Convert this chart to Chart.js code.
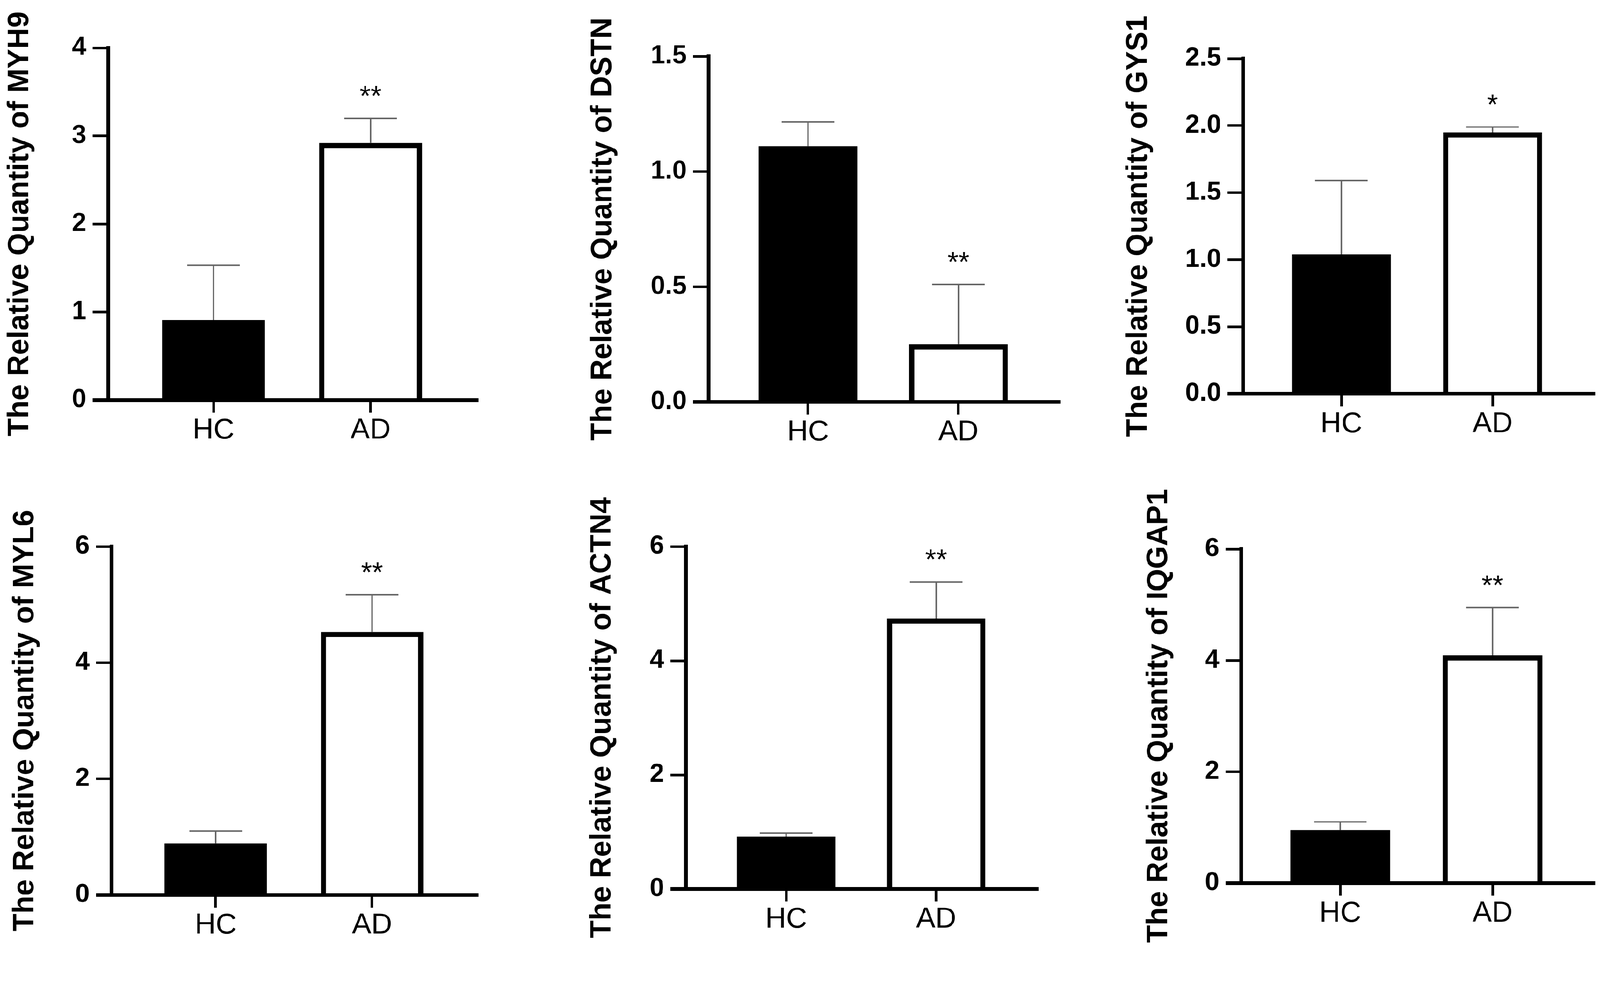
<!DOCTYPE html>
<html lang="en">
<head>
    <meta charset="UTF-8">
    <title>Relative Quantity - HC vs AD</title>
    <script src="https://cdn.jsdelivr.net/npm/chart.js"></script>
    <style>
        html, body { margin: 0; padding: 0; background: #fff; overflow: hidden; }
        #page { position: absolute; left: 0; top: 0; width: 4317px; height: 2554px; transform-origin: 0 0; background: #fff; }
        canvas { position: absolute; }
    </style>
</head>
<body>
    <div id="page"></div>
    <script>
        // values
        const groups = ['HC', 'AD'];
        const genes = ['MYH9', 'DSTN', 'GYS1', 'MYL6', 'ACTN4', 'IQGAP1'];
        const hcMean = [0.91, 1.11, 1.04, 0.89, 0.92, 0.95];
        const hcErr = [0.62, 0.105, 0.55, 0.21, 0.06, 0.15];
        const adMean = [2.92, 0.25, 1.95, 4.53, 4.74, 4.09];
        const adErr = [0.28, 0.26, 0.04, 0.64, 0.64, 0.86];
        const marks = ['**', '**', '*', '**', '**', '**'];
        const yMax = [4, 1.5, 2.5, 6, 6, 6];
        const yStep = [1, 0.5, 0.5, 2, 2, 2];
        const yDecimals = [0, 1, 1, 0, 0, 0];
        const xMin = [-0.67, -0.66, -0.65, -0.666, -0.667, -0.65];
        const xMax = [1.677, 1.67, 1.669, 1.671, 1.672, 1.664];

        // where each panel sits on the page (pixels)
        const frames = [
            { axisX: 292, topY: 129, zeroY: 1079, endX: 1287, titleX: 54 },
            { axisX: 1912, topY: 152, zeroY: 1084, endX: 2858, titleX: 1627 },
            { axisX: 3354, topY: 158, zeroY: 1062, endX: 4300, titleX: 3072 },
            { axisX: 301, topY: 1474, zeroY: 2414, endX: 1287, titleX: 68 },
            { axisX: 1851, topY: 1474, zeroY: 2398, endX: 2798, titleX: 1625 },
            { axisX: 3349, topY: 1481, zeroY: 2382, endX: 4300, titleX: 3127 }
        ];

        const FONT = "'Liberation Sans', Arial, sans-serif";
        const PAD_TOP = 200;
        const page = document.getElementById('page');

        // keep the 4317x2554 design filling the viewport whatever its css size
        const fit = Math.min(window.innerWidth / 4317, window.innerHeight / 2554);
        page.style.transform = 'scale(' + fit + ')';

        function makePanel(i) {
            const f = frames[i];
            const left = f.titleX - 50;
            const top = Math.max(0, f.topY - PAD_TOP);
            const padTop = f.topY - top;
            const width = f.endX - left + 12;
            const height = f.zeroY - top + 160;

            const canvas = document.createElement('canvas');
            canvas.width = width;
            canvas.height = height;
            canvas.style.left = left + 'px';
            canvas.style.top = top + 'px';
            canvas.style.width = width + 'px';
            canvas.style.height = height + 'px';
            page.appendChild(canvas);

            const means = [hcMean[i], adMean[i]];
            const errs = [hcErr[i], adErr[i]];

            // upper error bars + significance stars
            const errorBars = {
                id: 'errorBars',
                beforeDatasetsDraw(chart) {
                    const { ctx, scales: { x, y } } = chart;
                    ctx.save();
                    ctx.strokeStyle = '#666';
                    ctx.lineWidth = 4;
                    means.forEach((m, j) => {
                        const px = x.getPixelForValue(j);
                        const yBar = y.getPixelForValue(m);
                        const yTop = y.getPixelForValue(m + errs[j]);
                        ctx.beginPath();
                        ctx.moveTo(px, yBar);
                        ctx.lineTo(px, yTop);
                        ctx.moveTo(px - 71, yTop);
                        ctx.lineTo(px + 71, yTop);
                        ctx.stroke();
                    });
                    const px = x.getPixelForValue(1);
                    const yTop = y.getPixelForValue(means[1] + errs[1]);
                    ctx.fillStyle = '#000';
                    ctx.font = '76px ' + FONT;
                    ctx.textAlign = 'center';
                    ctx.textBaseline = 'alphabetic';
                    ctx.fillText(marks[i], px, yTop - 35);
                    ctx.restore();
                }
            };

            new Chart(canvas, {
                type: 'bar',
                data: {
                    datasets: [{
                        data: groups.map((g, j) => ({ x: j, y: means[j] })),
                        backgroundColor: ['#000', '#fff'],
                        borderColor: '#000',
                        borderWidth: [0, 14],
                        borderSkipped: 'start',
                        barPercentage: 0.655,
                        categoryPercentage: 1
                    }]
                },
                options: {
                    responsive: false,
                    animation: false,
                    devicePixelRatio: 1,
                    layout: { padding: { top: padTop, right: 12, left: 0, bottom: 0 } },
                    plugins: { legend: { display: false }, tooltip: { enabled: false } },
                    scales: {
                        x: {
                            type: 'linear',
                            min: xMin[i],
                            max: xMax[i],
                            offset: false,
                            afterBuildTicks: s => { s.ticks = groups.map((g, j) => ({ value: j })); },
                            afterFit: s => { s.height = 160; },
                            ticks: {
                                callback: v => groups[v],
                                font: { family: FONT, size: 78 },
                                color: '#000',
                                padding: 2,
                                maxRotation: 0,
                                autoSkip: false
                            },
                            grid: { offset: false, drawOnChartArea: false, tickLength: 34, lineWidth: 7, color: '#000' },
                            border: { width: 10, color: '#000', z: 1 }
                        },
                        y: {
                            min: 0,
                            max: yMax[i],
                            afterFit: s => { s.width = f.axisX - left; },
                            ticks: {
                                stepSize: yStep[i],
                                callback: v => Number(v).toFixed(yDecimals[i]),
                                font: { family: FONT, size: 70, weight: 'bold' },
                                color: '#000',
                                padding: 17
                            },
                            grid: {
                                drawOnChartArea: false,
                                tickLength: 42,
                                lineWidth: c => (c.tick && c.tick.value === 0 ? 10 : 7),
                                color: '#000'
                            },
                            border: { width: 10, color: '#000', z: 1 },
                            title: {
                                display: true,
                                text: 'The Relative Quantity of ' + genes[i],
                                font: { family: FONT, size: 79, weight: 'bold' },
                                color: '#000',
                                padding: { top: 2.6, bottom: 0 }
                            }
                        }
                    }
                },
                plugins: [errorBars]
            });
        }

        genes.forEach((g, i) => makePanel(i));
    </script>
</body>
</html>
